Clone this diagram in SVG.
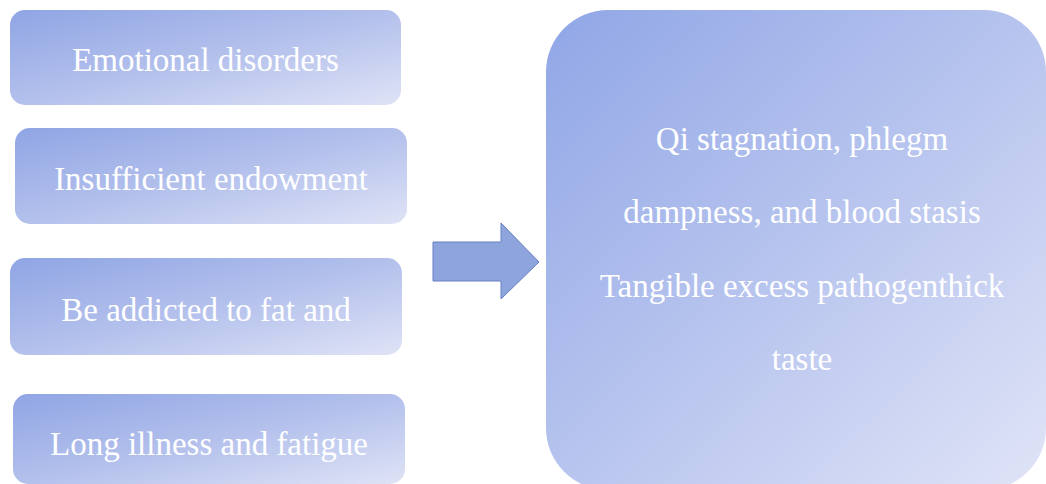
<svg xmlns="http://www.w3.org/2000/svg" width="1046" height="484" viewBox="0 0 1046 484">
<defs>
<linearGradient id="g" x1="0" y1="0" x2="1" y2="1">
<stop offset="0" stop-color="#8fa5e4"/>
<stop offset="0.5" stop-color="#b3c0ec"/>
<stop offset="1" stop-color="#dfe3f6"/>
</linearGradient>
<linearGradient id="gb" x1="0" y1="0" x2="1" y2="1">
<stop offset="0" stop-color="#90a6e6"/>
<stop offset="0.5" stop-color="#b7c4ee"/>
<stop offset="1" stop-color="#e0e4f7"/>
</linearGradient>
<style>
.box{fill:url(#g);}
.t{font-family:"Liberation Serif","Times New Roman",serif;font-size:33px;fill:#ffffff;text-anchor:middle;}
</style>
</defs>
<rect width="1046" height="484" fill="#ffffff"/>
<g id="n1"><rect class="box" x="10" y="10" width="391" height="95" rx="15"/><text class="t" x="205.5" y="71">Emotional disorders</text></g>
<g id="n2"><rect class="box" x="15" y="128" width="392" height="96" rx="15"/><text class="t" x="211" y="190">Insufficient endowment</text></g>
<g id="n3"><rect class="box" x="10" y="258" width="392" height="97" rx="15"/><text class="t" x="206" y="321">Be addicted to fat and</text></g>
<g id="n4"><rect class="box" x="13" y="394" width="392" height="90" rx="15"/><text class="t" x="209" y="455">Long illness and fatigue</text></g>
<g id="n5"><rect x="546" y="10" width="500" height="480" rx="62" fill="url(#gb)"/>
<text class="t" x="802" y="150">Qi stagnation, phlegm</text>
<text class="t" x="802" y="223">dampness, and blood stasis</text>
<text class="t" x="802" y="297">Tangible excess pathogenthick</text>
<text class="t" x="802" y="370">taste</text>
</g>
<g id="connectors"><polygon points="433,242 501,242 501,223 539,262 501,299 501,281 433,281" fill="#8ea4dc" stroke="#6780c2" stroke-width="1"/></g>
</svg>
